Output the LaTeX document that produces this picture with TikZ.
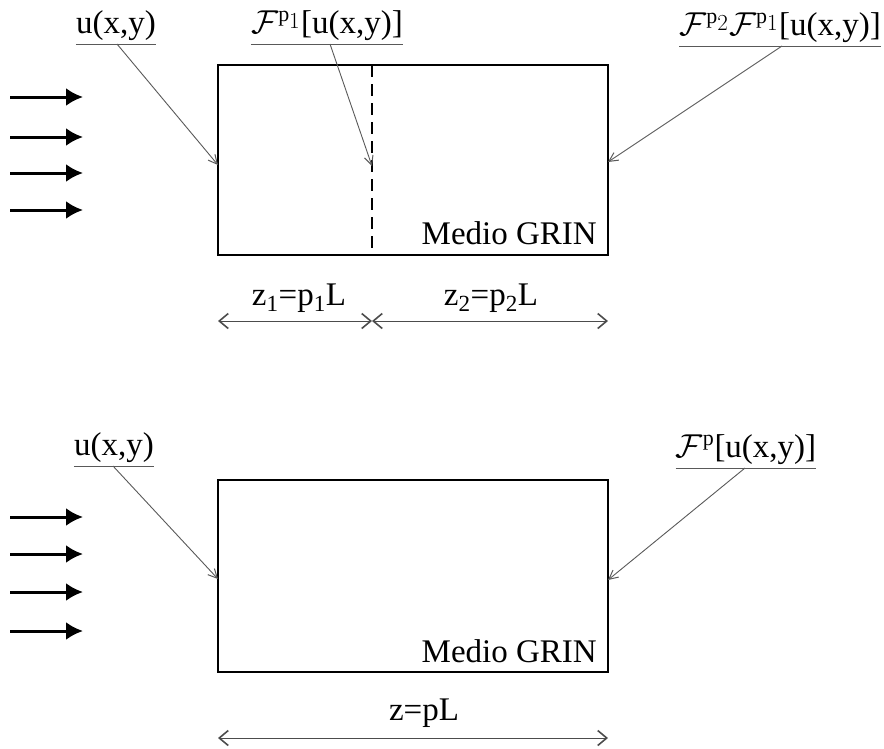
\documentclass[tikz,border=0pt]{standalone}
\usepackage{graphicx}
\usepackage{fontspec}
\setmainfont{Liberation Serif}
\usetikzlibrary{arrows.meta}
% calligraphic operator with a small exponent, enlarged past the largest math size
\newcommand{\opF}[1]{\scalebox{1.33}{$\mathcal{F}^{\scriptscriptstyle #1}$}}
\begin{document}
\begin{tikzpicture}[x=1pt,y=-1pt,
  lbl/.style={font=\fontsize{33}{38}\selectfont, inner xsep=0pt, inner ysep=3pt, anchor=south},
  tag/.style={font=\fontsize{33}{38}\selectfont, inner sep=0pt},
  medium/.style={line width=2pt},
  beam/.style={line width=3pt, -{Latex[length=17pt,width=18pt]}},
  leader/.style={line width=0.9pt, gray!70!black, -{Straight Barb[length=9pt,width=9pt,line width=1pt]}},
  uline/.style={line width=0.9pt, gray!70!black},
  dim/.style={line width=0.9pt, gray!60!black, {Straight Barb[length=9pt,width=15pt,line width=1.6pt]}-{Straight Barb[length=9pt,width=15pt,line width=1.6pt]}}]
\useasboundingbox (0,0) rectangle (884,748);

% ---------- upper sketch: two consecutive sections ----------
\draw[medium] (218,65) rectangle (608,255);
\coordinate (cut top) at (372,65);
\coordinate (cut bot) at (372,255);
\draw[line width=2.2pt, dash pattern=on 12pt off 7pt] (cut top) -- (cut bot);
\node[tag, anchor=base east] (grinA) at (597,244) {Medio GRIN};

\foreach \yy [count=\i] in {97,137,173,210} {
  \coordinate (bs\i) at (10,\yy);
  \coordinate (be\i) at (83,\yy);
  \draw[beam] (bs\i) -- (be\i);
}

\node[lbl] (inA) at (116,44) {u(x,y)};
\draw[uline] (inA.south west) -- (inA.south east);
\coordinate (inA tip) at (218,165);
\draw[leader] (117,44) -- (inA tip);

\node[lbl] (midA) at (327,44) {\opF{\mathrm{p}_1}[u(x,y)]};
\draw[uline] (midA.south west) -- (midA.south east);
\coordinate (midA tip) at (372,166);
\draw[leader] (330,44) -- (midA tip);

\node[lbl] (outA) at (780,46) {\opF{\mathrm{p}_2}\opF{\mathrm{p}_1}[u(x,y)]};
\draw[uline] (outA.south west) -- (outA.south east);
\coordinate (outA tip) at (608,162);
\draw[leader] (782,46) -- (outA tip);

\coordinate (dA1) at (218,321);
\coordinate (dA2) at (372,321);
\coordinate (dA3) at (608,321);
\draw[dim] (dA1) -- (dA2);
\draw[dim] (dA2) -- (dA3);
\node[tag, anchor=base] (z1) at (299,305) {z\textsubscript{1}=p\textsubscript{1}L};
\node[tag, anchor=base] (z2) at (491,305) {z\textsubscript{2}=p\textsubscript{2}L};

% ---------- lower sketch: single section ----------
\draw[medium] (218,480) rectangle (608,672);
\node[tag, anchor=base east] (grinB) at (597,662) {Medio GRIN};

\foreach \yy [count=\i] in {517,554,592,631} {
  \coordinate (cs\i) at (10,\yy);
  \coordinate (ce\i) at (83,\yy);
  \draw[beam] (cs\i) -- (ce\i);
}

\node[lbl] (inB) at (114,466) {u(x,y)};
\draw[uline] (inB.south west) -- (inB.south east);
\coordinate (inB tip) at (218,579);
\draw[leader] (113,466) -- (inB tip);

\node[lbl] (outB) at (746,468) {\opF{\mathrm{p}}[u(x,y)]};
\draw[uline] (outB.south west) -- (outB.south east);
\coordinate (outB tip) at (608,580);
\draw[leader] (745,468) -- (outB tip);

\coordinate (dB1) at (218,738);
\coordinate (dB2) at (608,738);
\draw[dim] (dB1) -- (dB2);
\node[tag, anchor=base] (zz) at (424,720) {z=pL};
\end{tikzpicture}
\end{document}
